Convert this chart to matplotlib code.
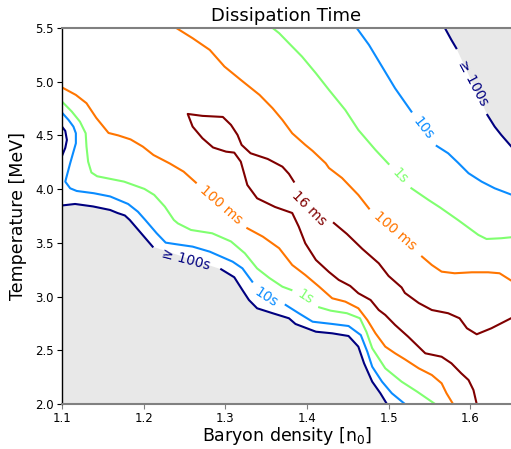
import matplotlib.pyplot as plt

# contour lines: (baryon density [n0], temperature [MeV])
# lines are split in two where the inline label sits

# >= 100 s, lower left boundary
navy_lo_x1 = [1.100, 1.116, 1.138, 1.159, 1.168, 1.177, 1.183, 1.197, 1.211]
navy_lo_y1 = [3.848, 3.862, 3.839, 3.806, 3.778, 3.755, 3.713, 3.589, 3.465]
navy_lo_x2 = [1.295, 1.311, 1.321, 1.329, 1.339, 1.358, 1.378, 1.386, 1.411, 1.431,
              1.451, 1.463, 1.470, 1.480, 1.490, 1.498]
navy_lo_y2 = [3.254, 3.180, 3.061, 2.968, 2.891, 2.845, 2.798, 2.745, 2.673, 2.658,
              2.633, 2.534, 2.379, 2.208, 2.100, 2.000]
# >= 100 s, small arc on the left edge
navy_arc_x = [1.100, 1.104, 1.106, 1.104, 1.100]
navy_arc_y = [4.582, 4.542, 4.458, 4.384, 4.309]
# >= 100 s, upper right boundary
navy_hi_x1 = [1.569, 1.577, 1.583]
navy_hi_y1 = [5.500, 5.389, 5.312]
navy_hi_x2 = [1.621, 1.630, 1.638, 1.650]
navy_hi_y2 = [4.691, 4.582, 4.505, 4.400]

# 10 s
blue_lo_x1 = [1.100, 1.108, 1.114, 1.117, 1.117, 1.110, 1.104, 1.110, 1.118, 1.139,
              1.159, 1.181, 1.193, 1.202, 1.216, 1.227, 1.240, 1.260, 1.281, 1.309,
              1.321, 1.333]
blue_lo_y1 = [4.712, 4.644, 4.582, 4.520, 4.427, 4.241, 4.070, 4.008, 3.983, 3.962,
              3.932, 3.862, 3.790, 3.713, 3.589, 3.502, 3.487, 3.465, 3.418, 3.325,
              3.263, 3.139]
blue_lo_x2 = [1.374, 1.390, 1.407, 1.431, 1.451, 1.466, 1.474, 1.480, 1.492, 1.504, 1.520]
blue_lo_y2 = [2.922, 2.845, 2.766, 2.745, 2.726, 2.642, 2.487, 2.347, 2.208, 2.100, 2.000]
blue_hi_x1 = [1.461, 1.476, 1.492, 1.508, 1.528]
blue_hi_y1 = [5.500, 5.343, 5.141, 4.939, 4.722]
blue_hi_x2 = [1.559, 1.573, 1.585, 1.598, 1.614, 1.630, 1.650]
blue_hi_y2 = [4.402, 4.334, 4.247, 4.148, 4.070, 4.008, 3.950]

# 1 s
green_lo_x1 = [1.100, 1.112, 1.122, 1.129, 1.130, 1.132, 1.136, 1.143, 1.176, 1.201,
               1.213, 1.226, 1.237, 1.242, 1.258, 1.284, 1.307, 1.324, 1.339, 1.354,
               1.370, 1.381]
green_lo_y1 = [4.815, 4.722, 4.628, 4.520, 4.396, 4.256, 4.155, 4.120, 4.070, 4.002,
               3.946, 3.837, 3.713, 3.681, 3.620, 3.589, 3.513, 3.403, 3.262, 3.173,
               3.092, 3.061]
green_lo_x2 = [1.415, 1.429, 1.449, 1.465, 1.473, 1.480, 1.496, 1.516, 1.535, 1.557]
green_lo_y2 = [2.900, 2.869, 2.845, 2.798, 2.670, 2.519, 2.332, 2.208, 2.115, 2.000]
green_hi_x1 = [1.358, 1.366, 1.378, 1.394, 1.411, 1.427, 1.447, 1.463, 1.484, 1.500]
green_hi_y1 = [5.500, 5.452, 5.358, 5.234, 5.079, 4.924, 4.737, 4.551, 4.365, 4.235]
green_hi_x2 = [1.528, 1.549, 1.563, 1.585, 1.610, 1.620, 1.638, 1.650]
green_hi_y2 = [4.008, 3.899, 3.830, 3.713, 3.574, 3.536, 3.543, 3.552]

# 100 ms
orange_lo_x1 = [1.100, 1.117, 1.130, 1.142, 1.157, 1.169, 1.184, 1.199, 1.212, 1.232,
                1.249, 1.264]
orange_lo_y1 = [4.947, 4.877, 4.800, 4.663, 4.523, 4.500, 4.463, 4.396, 4.318, 4.239,
                4.163, 4.061]
orange_lo_x2 = [1.327, 1.346, 1.366, 1.382, 1.398, 1.415, 1.431, 1.447, 1.463, 1.474,
                1.484, 1.496, 1.508, 1.520, 1.537, 1.553, 1.565, 1.571, 1.579]
orange_lo_y2 = [3.636, 3.558, 3.450, 3.294, 3.201, 3.092, 2.984, 2.953, 2.891, 2.782,
                2.658, 2.534, 2.472, 2.416, 2.332, 2.270, 2.193, 2.100, 2.000]
orange_hi_x1 = [1.240, 1.260, 1.281, 1.299, 1.319, 1.342, 1.358, 1.370, 1.382, 1.398,
                1.407, 1.423, 1.427, 1.443, 1.463, 1.476]
orange_hi_y1 = [5.500, 5.405, 5.296, 5.141, 5.017, 4.877, 4.753, 4.644, 4.520, 4.412,
                4.356, 4.241, 4.197, 4.104, 3.946, 3.820]
orange_hi_x2 = [1.541, 1.553, 1.565, 1.581, 1.602, 1.622, 1.636, 1.650]
orange_hi_y2 = [3.372, 3.294, 3.232, 3.217, 3.226, 3.226, 3.217, 3.150]

# 16 ms (one curve that turns back near (1.25, 4.7))
red_x1 = [1.608, 1.604, 1.598, 1.589, 1.577, 1.565, 1.545, 1.524, 1.508, 1.496,
          1.488, 1.478, 1.463, 1.453, 1.439, 1.427, 1.411, 1.398, 1.390, 1.382,
          1.361, 1.339, 1.327, 1.323, 1.319, 1.311, 1.301, 1.285, 1.272, 1.260,
          1.254, 1.272, 1.297, 1.307, 1.315, 1.320, 1.331, 1.352, 1.370, 1.378, 1.384]
red_y1 = [2.000, 2.130, 2.223, 2.286, 2.379, 2.440, 2.472, 2.627, 2.736, 2.829,
          2.875, 2.968, 3.031, 3.099, 3.155, 3.229, 3.341, 3.496, 3.651, 3.778,
          3.834, 3.915, 4.039, 4.148, 4.256, 4.340, 4.349, 4.388, 4.474, 4.582,
          4.700, 4.682, 4.672, 4.598, 4.505, 4.412, 4.334, 4.281, 4.209, 4.142, 4.070]
red_x2 = [1.433, 1.449, 1.468, 1.488, 1.500, 1.516, 1.520, 1.537, 1.553, 1.573,
          1.587, 1.596, 1.608, 1.626, 1.650]
red_y2 = [3.685, 3.583, 3.443, 3.310, 3.192, 3.085, 3.034, 2.940, 2.875, 2.845,
          2.798, 2.705, 2.649, 2.705, 2.798]

# inline labels: text, x, y, rotation
label_text = ['≥ 100s', '≥ 100s', '10s', '10s', '1s', '1s', '100 ms', '100 ms', '16 ms']
label_x = [1.2524, 1.6037, 1.3494, 1.5427, 1.3984, 1.5143, 1.2948, 1.5082, 1.4024]
label_y = [3.341, 4.986, 2.992, 4.567, 2.992, 4.118, 3.853, 3.611, 3.822]
label_rot = [-15, -62, -33, -52, -33, -46, -41, -41, -45]

c_navy = '#000080'
c_blue = '#0a8cff'
c_green = '#80ff70'
c_orange = '#ff7500'
c_red = '#800000'
label_col = [c_navy, c_navy, c_blue, c_blue, c_green, c_green, c_orange, c_orange, c_red]

fig = plt.figure(figsize=(5.11, 4.49), dpi=100)
ax = fig.add_axes([62 / 511, 45 / 449, 449 / 511, 376 / 449])

gray = '#e8e8e8'
ax.fill([1.1] + navy_lo_x1 + navy_lo_x2, [2.0] + navy_lo_y1 + navy_lo_y2,
        color=gray, lw=0, zorder=1)
ax.fill(navy_hi_x1 + navy_hi_x2 + [1.65], navy_hi_y1 + navy_hi_y2 + [5.5],
        color=gray, lw=0, zorder=1)

lw = 1.5
for xs, ys, c in [(navy_lo_x1, navy_lo_y1, c_navy), (navy_lo_x2, navy_lo_y2, c_navy),
                  (navy_arc_x, navy_arc_y, c_navy),
                  (navy_hi_x1, navy_hi_y1, c_navy), (navy_hi_x2, navy_hi_y2, c_navy),
                  (blue_lo_x1, blue_lo_y1, c_blue), (blue_lo_x2, blue_lo_y2, c_blue),
                  (blue_hi_x1, blue_hi_y1, c_blue), (blue_hi_x2, blue_hi_y2, c_blue),
                  (green_lo_x1, green_lo_y1, c_green), (green_lo_x2, green_lo_y2, c_green),
                  (green_hi_x1, green_hi_y1, c_green), (green_hi_x2, green_hi_y2, c_green),
                  (orange_lo_x1, orange_lo_y1, c_orange), (orange_lo_x2, orange_lo_y2, c_orange),
                  (orange_hi_x1, orange_hi_y1, c_orange), (orange_hi_x2, orange_hi_y2, c_orange),
                  (red_x1, red_y1, c_red), (red_x2, red_y2, c_red)]:
    ax.plot(xs, ys, color=c, lw=lw, zorder=2, clip_on=True)

for t, x, y, r, c in zip(label_text, label_x, label_y, label_rot, label_col):
    ax.text(x, y, t, color=c, fontsize=10, rotation=r, rotation_mode='anchor',
            ha='center', va='center', zorder=3)

ax.set_xlim(1.1, 1.65)
ax.set_ylim(2.0, 5.5)
ax.set_xticks([1.1, 1.2, 1.3, 1.4, 1.5, 1.6])
ax.set_xticklabels(['1.1', '1.2', '1.3', '1.4', '1.5', '1.6'])
ax.set_yticks([2.0, 2.5, 3.0, 3.5, 4.0, 4.5, 5.0, 5.5])
ax.set_yticklabels(['2.0', '2.5', '3.0', '3.5', '4.0', '4.5', '5.0', '5.5'])
ax.tick_params(labelsize=8.5, length=3.5, pad=2.5)
ax.tick_params(axis='x', color='#808080')

ax.spines['right'].set_visible(False)
ax.spines['top'].set_color('#808080')
ax.spines['bottom'].set_color('#808080')
ax.spines['top'].set_linewidth(1.5)
ax.spines['bottom'].set_linewidth(1.5)
ax.spines['left'].set_color('black')
ax.spines['left'].set_linewidth(1.0)

ax.set_title('Dissipation Time', fontsize=13, pad=5)
ax.set_xlabel('Baryon density [n$_0$]', fontsize=12.5, labelpad=0)
ax.set_ylabel('Temperature [MeV]', fontsize=12.5, labelpad=6)

fig.savefig('out.png', dpi=100)
